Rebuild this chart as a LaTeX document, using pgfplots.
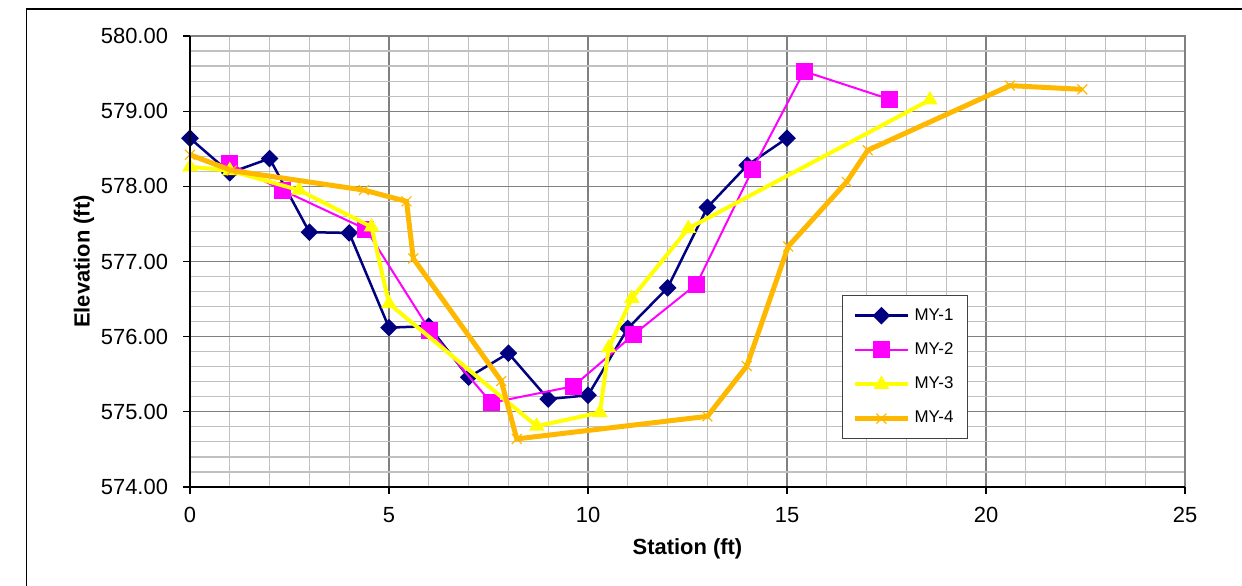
\documentclass[border=0pt]{standalone}
\usepackage{pgfplots}
\pgfplotsset{compat=1.18}
\usepackage{fontspec}
\setmainfont{Liberation Sans}
\definecolor{navyc}{RGB}{0,0,128}
\definecolor{magc}{RGB}{255,0,255}
\definecolor{yelc}{RGB}{255,255,0}
\definecolor{orc}{RGB}{255,184,0}
\definecolor{majgrid}{RGB}{128,128,128}
\definecolor{mingrid}{RGB}{192,192,192}
\begin{document}
\begin{tikzpicture}
\useasboundingbox (0,0) rectangle (621bp,293bp);
\draw[black, line width=0.6bp] (13.3bp,0) -- (13.3bp,288.5bp) -- (621bp,288.5bp);
\begin{axis}[
  at={(95bp,49.5bp)}, anchor=south west,
  scale only axis, width=497.5bp, height=225.5bp,
  xmin=0, xmax=25, ymin=574, ymax=580,
  xtick={0,5,...,25}, ytick={574,575,...,580},
  minor x tick num=4, minor y tick num=4,
  grid=both,
  major grid style={majgrid, line width=0.6bp},
  minor grid style={mingrid, line width=0.6bp},
  axis line style={draw=none},
  tick pos=left, tick align=outside,
  major tick length=3.5bp, minor tick length=0pt,
  tick style={black, line width=0.6bp},
  clip mode=individual,
  /pgf/number format/assume math mode=true,
  ticklabel style={font=\fontsize{11}{13}\selectfont},
  xticklabel style={yshift=-3bp},
  yticklabel style={xshift=-4bp, /pgf/number format/.cd, fixed, fixed zerofill, precision=2, 1000 sep={}},
  xlabel={Station (ft)}, ylabel={Elevation (ft)},
  label style={font=\bfseries\fontsize{11}{13}\selectfont},
  xlabel style={at={(axis description cs:0.5,-0.1375)}, anchor=center},
  ylabel style={at={(axis description cs:-0.1065,0.5)}, anchor=center, rotate=0},
  legend style={at={(0.655,0.426)}, anchor=north west, draw=black!75, line width=0.5bp, fill=white,
    font=\fontsize{8.5}{10}\selectfont, row sep=5.8bp, inner xsep=5bp, inner ysep=4.5bp},
  legend cell align=left,
  legend image code/.code={\draw[mark repeat=2,mark phase=2,#1] plot coordinates {(0bp,0bp) (13.35bp,0bp) (26.7bp,0bp)};},
]
\addplot[navyc, line width=1.25bp, mark=square*, mark size=2.5bp, mark options={rotate=45, solid, fill=navyc}] coordinates {
(0,578.64) (1,578.18) (2,578.37) (3,577.39) (4,577.38) (5,576.12) (6,576.14) (7,575.46)
(8,575.78) (9,575.17) (10,575.22) (11,576.11) (12,576.65) (13,577.72) (14,578.28) (15,578.64)};
\addlegendentry{MY-1}
\addplot[magc, line width=1bp, mark=square*, mark size=3.75bp, mark options={solid, fill=magc}] coordinates {
(1,578.30) (2.32,577.95) (4.42,577.43) (6.03,576.08) (7.57,575.12) (9.63,575.34) (11.15,576.03)
(12.73,576.70) (14.13,578.22) (15.43,579.53) (17.57,579.16)};
\addlegendentry{MY-2}
\addplot[yelc, line width=2bp, mark=triangle*, mark size=4bp, mark options={solid, fill=yelc, line width=0.5bp}] coordinates {
(0,578.26) (1.0,578.21) (2.74,577.95) (4.56,577.46) (5.0,576.44) (8.71,574.81) (10.3,574.99)
(10.52,575.85) (11.1,576.51) (12.52,577.44) (18.59,579.15)};
\addlegendentry{MY-3}
\addplot[orc, line width=2.5bp, mark=x, mark size=3.5bp, mark options={solid, line width=0.6bp}] coordinates {
(0,578.42) (1.05,578.21) (4.37,577.95) (5.44,577.80) (5.61,577.04) (7.82,575.41) (8.21,574.64)
(13.0,574.94) (13.99,575.61) (15.03,577.20) (16.5,578.06) (17.03,578.48) (20.6,579.34) (22.42,579.29)};
\addlegendentry{MY-4}
\draw[majgrid, line width=1.2bp] (rel axis cs:0,1) -- (rel axis cs:1,1) -- (rel axis cs:1,0);
\draw[black, line width=0.7bp] (rel axis cs:0,1) -- (rel axis cs:0,0) -- (rel axis cs:1,0);
\end{axis}
\end{tikzpicture}
\end{document}
